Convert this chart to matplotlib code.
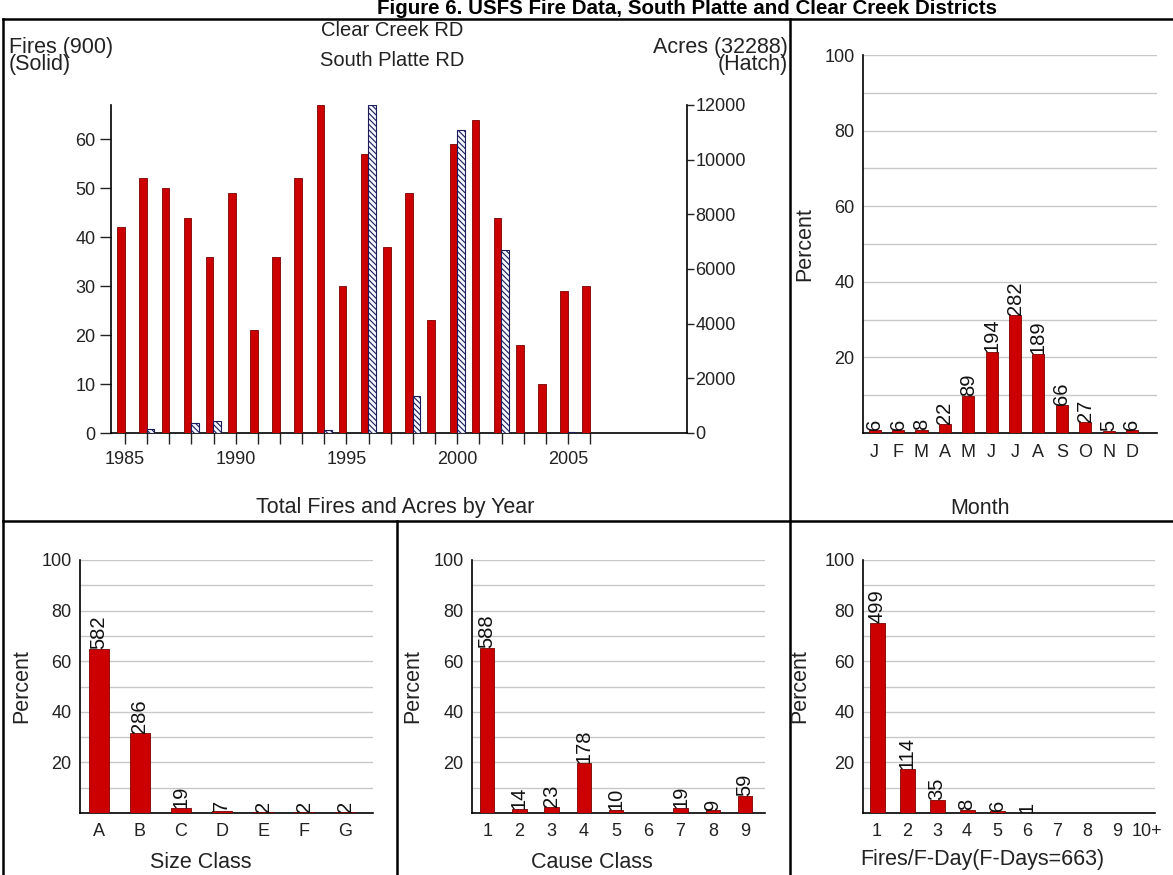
import matplotlib
matplotlib.use("Agg")
import matplotlib.pyplot as plt
from matplotlib.lines import Line2D
import numpy as np

# ---------------- data ----------------
years = list(range(1985, 2007))
fires = [42, 52, 50, 44, 36, 49, 21, 36, 52, 67, 30, 57, 38, 49, 23, 59, 64, 44, 18, 10, 29, 30]
acres = [0, 135, 0, 355, 440, 0, 0, 0, 0, 110, 0, 12000, 0, 1350, 0, 11100, 0, 6700, 0, 0, 50, 0]
total_fires = 900
total_acres = 32288

months = ["J", "F", "M", "A", "M", "J", "J", "A", "S", "O", "N", "D"]
month_counts = [6, 6, 8, 22, 89, 194, 282, 189, 66, 27, 5, 6]

size_classes = ["A", "B", "C", "D", "E", "F", "G"]
size_counts = [582, 286, 19, 7, 2, 2, 2]

cause_classes = ["1", "2", "3", "4", "5", "6", "7", "8", "9"]
cause_counts = [588, 14, 23, 178, 10, 0, 19, 9, 59]

fday_classes = ["1", "2", "3", "4", "5", "6", "7", "8", "9", "10+"]
fday_counts = [499, 114, 35, 8, 6, 1, 0, 0, 0, 0]
total_fdays = 663

# ---------------- style ----------------
plt.rcParams["font.family"] = ["Liberation Sans", "DejaVu Sans"]
plt.rcParams["hatch.linewidth"] = 0.8
TICK = 13
LAB = 15.5
VAL = 14.5
TXT = "#222222"
RED = "#cc0000"
REDE = "#7a0000"

W, H = 1173, 875
fig = plt.figure(figsize=(W / 100, H / 100), dpi=100)
fig.patch.set_facecolor("white")


def rect(l, t, r, b):
    return [l / W, 1 - b / H, (r - l) / W, (b - t) / H]


def fx(x):
    return x / W


def fy(y):
    return 1 - y / H


# ---------------- main chart ----------------
ax = fig.add_axes(rect(111, 105, 687, 433))
yrs = np.array(years)
ax.bar(yrs - 0.18, fires, width=0.34, color=RED, edgecolor=REDE, linewidth=0.6, zorder=3)
ax.set_xlim(1984.37, 2010.37)
ax.set_ylim(0, 67)
ax.set_xticks([1985, 1990, 1995, 2000, 2005])
ax.set_xticks(years, minor=True)
ax.set_yticks(range(0, 61, 10))
ax.tick_params(axis="x", which="both", length=8, width=1, direction="out", pad=5,
               labelsize=TICK, colors=TXT)
ax.tick_params(axis="y", length=8, width=1, direction="out", pad=3, labelsize=TICK, colors=TXT)
for s in ["top", "right"]:
    ax.spines[s].set_visible(False)
for s in ["left", "bottom"]:
    ax.spines[s].set_linewidth(1.2)
ax.patch.set_alpha(0)

ax2 = ax.twinx()
ax2.bar(yrs + 0.16, acres, width=0.34, facecolor="#f4f7ff", edgecolor="#1c1c5a",
        linewidth=0.8, hatch="\\" * 6, zorder=3)
ax2.set_ylim(0, 12000)
ax2.set_yticks(range(0, 12001, 2000))
ax2.tick_params(axis="y", length=5, width=1, direction="out", pad=1, labelsize=TICK, colors=TXT)
for s in ["top", "left", "bottom"]:
    ax2.spines[s].set_visible(False)
ax2.spines["right"].set_linewidth(1.2)

fig.text(fx(9), fy(56), f"Fires ({total_fires})\n(Solid)", ha="left", va="center",
         multialignment="left", linespacing=0.78, fontsize=LAB, color=TXT)
fig.text(fx(788), fy(56), f"Acres ({total_acres})\n(Hatch)", ha="right", va="center",
         multialignment="right", linespacing=0.78, fontsize=LAB, color=TXT)
fig.text(fx(392), fy(30), "Clear Creek RD", ha="center", va="center", fontsize=14.5, color=TXT)
fig.text(fx(392), fy(60), "South Platte RD", ha="center", va="center", fontsize=14.5, color=TXT)
fig.text(fx(395), fy(508), "Total Fires and Acres by Year", ha="center", va="center",
         fontsize=LAB, color=TXT)
fig.text(fx(980), fy(508), "Month", ha="center", va="center", fontsize=LAB, color=TXT)

fig.text(fx(687), fy(14), "Figure 6. USFS Fire Data, South Platte and Clear Creek Districts",
         ha="center", va="baseline", fontsize=14.8, fontweight="bold", color="black")


# ---------------- percent panels ----------------
def pct_panel(box, cats, counts, total, width, xlim, ylab_x, xlab, xlab_pos, xpad):
    a = fig.add_axes(rect(*box))
    xs = np.arange(len(cats))
    pct = [100.0 * c / total for c in counts]
    a.bar(xs, pct, width=width, color=RED, edgecolor=REDE, linewidth=0.6, zorder=3)
    for x, c, p in zip(xs, counts, pct):
        if c > 0:
            a.text(x, p, str(c), rotation=90, ha="center", va="bottom", fontsize=VAL,
                   color="#111111", zorder=4)
    a.set_xlim(*xlim)
    a.set_ylim(0, 100)
    a.set_xticks(xs)
    a.set_xticklabels(cats)
    a.set_yticks([20, 40, 60, 80, 100])
    a.set_yticks([10, 30, 50, 70, 90], minor=True)
    a.grid(axis="y", which="both", color="#c8c8c8", linewidth=1.0, zorder=0)
    a.tick_params(axis="both", which="both", length=0, labelsize=TICK, colors=TXT)
    a.tick_params(axis="x", pad=xpad)
    a.tick_params(axis="y", pad=6)
    for s in ["top", "right"]:
        a.spines[s].set_visible(False)
    for s in ["left", "bottom"]:
        a.spines[s].set_linewidth(1.2)
    cy = (box[1] + box[3]) / 2
    fig.text(fx(ylab_x), fy(cy), "Percent", rotation=90, ha="center", va="center",
             fontsize=LAB, color=TXT)
    if xlab:
        fig.text(fx(xlab_pos[0]), fy(xlab_pos[1]), xlab, ha="center", va="center",
                 fontsize=LAB, color=TXT)
    return a


pct_panel((863, 55, 1157, 433), months, month_counts, total_fires, 0.52, (-0.5, 12.07),
          805, None, None, 8)
pct_panel((80, 560, 373, 813), size_classes, size_counts, total_fires, 0.5, (-0.46, 6.68),
          22, "Size Class", (201, 862), 7)
pct_panel((472, 560, 765, 813), cause_classes, cause_counts, total_fires, 0.45, (-0.47, 8.62),
          413, "Cause Class", (592, 862), 7)
pct_panel((863, 560, 1155, 813), fday_classes, fday_counts, total_fdays, 0.5, (-0.47, 9.27),
          800, f"Fires/F-Day(F-Days={total_fdays})", (982, 860), 7)

# ---------------- panel frame ----------------
frame = [((3, 19), (1173, 19)), ((3, 19), (3, 875)), ((790, 19), (790, 875)),
         ((3, 521), (1173, 521)), ((397, 521), (397, 875))]
for (x0, y0), (x1, y1) in frame:
    fig.add_artist(Line2D([fx(x0), fx(x1)], [fy(y0), fy(y1)], color="black", linewidth=1.8,
                          transform=fig.transFigure))

fig.savefig("out.png", dpi=100, facecolor="white")
